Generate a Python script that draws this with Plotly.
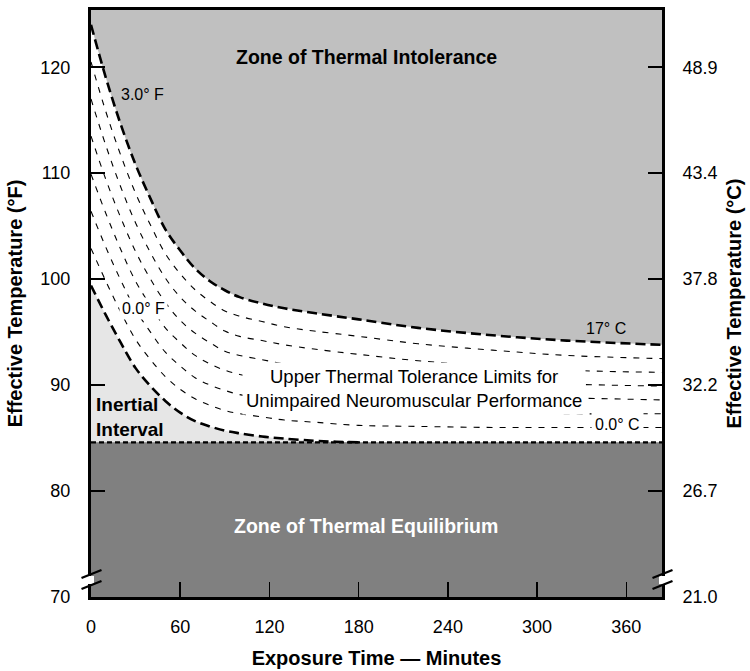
import plotly.graph_objects as go

# ---------------- data ----------------
time_min = [0, 10, 20, 30, 40, 50, 60, 70, 80, 90, 100, 115, 130, 150, 180, 220, 270, 320, 384]

upper_limit_F = [124.0, 119.0, 114.6, 110.8, 107.6, 104.7, 102.7, 101.0, 99.8, 98.95, 98.3,
                 97.7, 97.25, 96.8, 96.2, 95.4, 94.7, 94.2, 93.8]

thin_limit_1_F = [120.5, 115.8, 111.7, 108.1, 105.1, 102.4, 100.5, 99.0, 97.9, 97.0, 96.5,
                  96.0, 95.5, 95.1, 94.6, 93.9, 93.3, 92.8, 92.5]
thin_limit_2_F = [117.0, 112.6, 108.7, 105.3, 102.5, 100.1, 98.3, 97.0, 96.0, 95.1, 94.6,
                  94.2, 93.8, 93.4, 92.9, 92.3, 91.8, 91.4, 91.2]
thin_limit_3_F = [113.5, 109.4, 105.8, 102.6, 100.0, 97.8, 96.1, 94.9, 94.0, 93.2, 92.8,
                  92.4, 92.0, 91.6, 91.2, 90.8, 90.4, 90.1, 89.9]
thin_limit_4_F = [109.9, 106.2, 102.8, 99.8, 97.5, 95.4, 94.0, 92.8, 92.0, 91.4, 91.0,
                  90.6, 90.2, 89.9, 89.6, 89.3, 89.0, 88.8, 88.6]
thin_limit_5_F = [106.4, 103.0, 99.9, 97.1, 95.0, 93.1, 91.8, 90.7, 90.0, 89.5, 89.1,
                  88.8, 88.5, 88.2, 87.9, 87.7, 87.5, 87.3, 87.3]
thin_limit_6_F = [102.9, 99.8, 96.9, 94.3, 92.4, 90.8, 89.6, 88.7, 88.1, 87.6, 87.3,
                  87.0, 86.7, 86.5, 86.2, 86.1, 86.0, 86.0, 86.0]
thin_curves = [thin_limit_1_F, thin_limit_2_F, thin_limit_3_F,
               thin_limit_4_F, thin_limit_5_F, thin_limit_6_F]

lower_time_min = [0, 10, 20, 30, 40, 50, 60, 70, 80, 90, 100, 115, 130, 150, 165, 180]
lower_limit_F = [99.4, 96.6, 94.0, 91.6, 89.9, 88.5, 87.4, 86.6, 86.1, 85.7, 85.45,
                 85.15, 84.95, 84.75, 84.65, 84.6]

equilibrium_time_min = [0, 384]
equilibrium_F = [84.6, 84.6]

x_ticks = [0, 60, 120, 180, 240, 300, 360]
y_ticks_F = [70, 80, 90, 100, 110, 120]
y_ticks_C = ["21.0", "26.7", "32.2", "37.8", "43.4", "48.9"]

# ---------------- styling ----------------
FONT = "Liberation Sans, Arial, Helvetica, sans-serif"
W, H = 750, 671
ML, MR, MT, MB = 91, 88, 10, 74
PW, PH = W - ML - MR, H - MT - MB


def px(xp):
    return (xp - ML) / PW


def py(yp):
    return (H - MB - yp) / PH


fig = go.Figure()

# fills
fig.add_trace(go.Scatter(x=time_min, y=upper_limit_F, mode="lines", line=dict(width=0, shape="spline"),
                         fill="tozeroy", fillcolor="white", hoverinfo="skip"))
fig.add_trace(go.Scatter(x=lower_time_min, y=lower_limit_F, mode="lines", line=dict(width=0, shape="spline"),
                         fill="tozeroy", fillcolor="#e6e6e6", hoverinfo="skip"))
fig.add_trace(go.Scatter(x=equilibrium_time_min, y=equilibrium_F, mode="lines", line=dict(width=0),
                         fill="tozeroy", fillcolor="#808080", hoverinfo="skip"))

# thin dashed curves
for c in thin_curves:
    fig.add_trace(go.Scatter(x=time_min, y=c, mode="lines",
                             line=dict(color="black", width=1.1, dash="6px,7px", shape="spline"),
                             hoverinfo="skip"))

# thick dashed curves
fig.add_trace(go.Scatter(x=time_min, y=upper_limit_F, mode="lines",
                         line=dict(color="black", width=2.6, dash="10px,5px", shape="spline"), hoverinfo="skip"))
fig.add_trace(go.Scatter(x=lower_time_min, y=lower_limit_F, mode="lines",
                         line=dict(color="black", width=2.6, dash="10px,5px", shape="spline"), hoverinfo="skip"))
fig.add_trace(go.Scatter(x=equilibrium_time_min, y=equilibrium_F, mode="lines",
                         line=dict(color="black", width=2.2, dash="5px,3px"), hoverinfo="skip"))

# dummy trace for the right axis
fig.add_trace(go.Scatter(x=[0], y=[70], yaxis="y2", mode="markers", marker=dict(opacity=0), hoverinfo="skip"))

annotations = [
    dict(x=185, y=120.95, text="<b>Zone of Thermal Intolerance</b>", showarrow=False,
         font=dict(size=19.5, color="black")),
    dict(x=185, y=76.66, text="<b>Zone of Thermal Equilibrium</b>", showarrow=False,
         font=dict(size=19.5, color="white")),
    dict(x=217, y=89.7, text="Upper Thermal Tolerance Limits for<br>Unimpaired Neuromuscular Performance",
         showarrow=False, font=dict(size=18.5, color="black"), bgcolor="white", borderpad=3),
    dict(x=2.0, y=87.0, text="<b>Inertial<br>Interval</b>", showarrow=False, xanchor="left",
         align="left", font=dict(size=19, color="black")),
    dict(x=19, y=117.4, text="3.0° F", showarrow=False, xanchor="left", font=dict(size=16, color="black")),
    dict(x=19, y=97.2, text="0.0° F", showarrow=False, xanchor="left", font=dict(size=16, color="black"),
         bgcolor="white", borderpad=2),
    dict(x=361, y=95.3, text="17° C", showarrow=False, xanchor="right", font=dict(size=16, color="black")),
    dict(x=336, y=86.3, text="0.0° C", showarrow=False, xanchor="left", font=dict(size=16, color="black"),
         bgcolor="white", borderpad=3),
]

shapes = []
# axis breaks (left and right)
for xa in (ML, ML + PW):
    shapes.append(dict(type="line", xref="paper", yref="paper", x0=px(xa), x1=px(xa),
                       y0=py(576), y1=py(584), line=dict(color="white", width=6)))
    for yb in (578, 589):
        shapes.append(dict(type="line", xref="paper", yref="paper",
                           x0=px(xa - 9.5), x1=px(xa + 10.5), y0=py(yb), y1=py(yb - 8),
                           line=dict(color="black", width=2.4)))

axis_common = dict(ticks="inside", tickwidth=1.5, tickcolor="black", showline=True, linewidth=3,
                   linecolor="black", showgrid=False, zeroline=False, tickfont=dict(size=18),
                   automargin=False)

fig.update_layout(
    width=W, height=H,
    margin=dict(l=ML, r=MR, t=MT, b=MB, autoexpand=False),
    paper_bgcolor="white", plot_bgcolor="#c0c0c0",
    showlegend=False,
    font=dict(family=FONT, color="black", size=18),
    annotations=annotations, shapes=shapes,
    xaxis=dict(range=[0, 384], tickvals=x_ticks, ticklen=15, mirror=True, ticklabelstandoff=11,
               title=dict(text="<b>Exposure Time — Minutes</b>", font=dict(size=20), standoff=16),
               **axis_common),
    yaxis=dict(range=[70, 125.4], tickvals=y_ticks_F, ticklen=14, ticklabelstandoff=14,
               title=dict(text="<b>Effective Temperature (°F)</b>", font=dict(size=20), standoff=13),
               **axis_common),
    yaxis2=dict(range=[70, 125.4], overlaying="y", side="right", tickvals=y_ticks_F, ticktext=y_ticks_C,
                ticklen=14, ticklabelstandoff=14,
                title=dict(text="<b>Effective Temperature (°C)</b>", font=dict(size=20), standoff=11),
                **axis_common),
)

fig.write_html("out.html", config={"displayModeBar": False, "staticPlot": True},
               post_script="document.body.style.margin='0';document.body.style.overflow='hidden';")
